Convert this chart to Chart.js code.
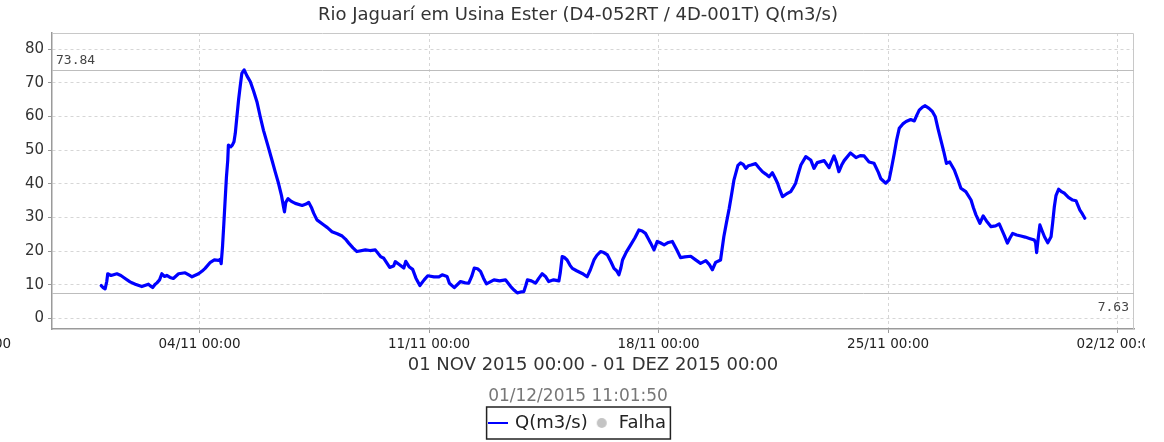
<!DOCTYPE html>
<html>
<head>
<meta charset="utf-8">
<title>Rio Jaguarí em Usina Ester</title>
<script src="https://cdn.jsdelivr.net/npm/chart.js@4/dist/chart.umd.min.js"></script>
<style>
  html, body { margin: 0; padding: 0; background: #fff; }
  canvas { display: block; }
</style>
</head>
<body>
<canvas id="grafico" width="1156" height="442"></canvas>
<script>
// serie de vazao: dias contados a partir de 01/11/2015 00:00
var dias = [
  0.00, 0.06, 0.12, 0.17, 0.20, 0.30, 0.48, 0.60, 0.73, 0.88, 1.04, 1.24, 1.44, 1.50, 1.57, 1.64,
  1.70, 1.78, 1.85, 1.93, 2.00, 2.10, 2.20, 2.36, 2.56, 2.70, 2.77, 2.97, 3.08, 3.17, 3.33, 3.45,
  3.58, 3.63, 3.66, 3.70, 3.74, 3.78, 3.82, 3.86, 3.88, 3.95, 4.00, 4.05, 4.09, 4.14, 4.19, 4.24,
  4.29, 4.36, 4.45, 4.55, 4.65, 4.75, 4.85, 4.95, 5.08, 5.21, 5.31, 5.41, 5.50, 5.56, 5.59, 5.63,
  5.70, 5.80, 5.92, 6.13, 6.25, 6.33, 6.42, 6.48, 6.58, 6.79, 6.90, 7.04, 7.20, 7.35, 7.45, 7.55,
  7.68, 7.80, 8.06, 8.20, 8.36, 8.52, 8.62, 8.80, 8.92, 8.97, 9.10, 9.23, 9.29, 9.40, 9.50, 9.60,
  9.72, 9.85, 9.96, 10.15, 10.30, 10.40, 10.55, 10.62, 10.77, 10.96, 11.10, 11.21, 11.30, 11.38, 11.48, 11.57,
  11.66, 11.75, 11.98, 12.15, 12.33, 12.49, 12.60, 12.69, 12.80, 12.89, 12.95, 13.00, 13.12, 13.25, 13.35, 13.45,
  13.55, 13.65, 13.80, 13.96, 14.00, 14.06, 14.12, 14.21, 14.30, 14.37, 14.50, 14.67, 14.82, 14.92, 15.03, 15.12,
  15.23, 15.33, 15.44, 15.55, 15.64, 15.72, 15.79, 15.85, 15.90, 16.02, 16.15, 16.28, 16.40, 16.50, 16.60, 16.70,
  16.76, 16.86, 16.96, 17.05, 17.17, 17.30, 17.42, 17.55, 17.67, 17.80, 17.98, 18.12, 18.28, 18.44, 18.55, 18.64,
  18.74, 18.89, 18.99, 19.07, 19.15, 19.22, 19.30, 19.42, 19.50, 19.58, 19.66, 19.74, 19.82, 19.96, 20.06, 20.17,
  20.27, 20.37, 20.47, 20.55, 20.63, 20.70, 20.78, 20.90, 21.03, 21.10, 21.18, 21.26, 21.34, 21.49, 21.64, 21.74,
  21.84, 22.05, 22.20, 22.35, 22.42, 22.50, 22.58, 22.66, 22.85, 23.02, 23.15, 23.27, 23.42, 23.57, 23.70, 23.78,
  23.93, 24.03, 24.10, 24.19, 24.26, 24.34, 24.45, 24.55, 24.69, 24.80, 24.88, 24.95, 25.05, 25.13, 25.25, 25.35,
  25.44, 25.52, 25.61, 25.70, 25.78, 25.88, 26.02, 26.12, 26.22, 26.37, 26.53, 26.60, 26.68, 26.80, 26.90, 27.00,
  27.14, 27.28, 27.39, 27.54, 27.64, 27.72, 27.80, 27.92, 28.05, 28.18, 28.31, 28.46, 28.50, 28.53, 28.58, 28.63,
  28.70, 28.77, 28.87, 28.97, 29.02, 29.07, 29.12, 29.20, 29.30, 29.38, 29.50, 29.63, 29.73, 29.85, 29.93, 30.00
];
var vazao = [
  9.8, 9.2, 8.8, 11.0, 13.3, 12.8, 13.3, 12.8, 11.9, 10.9, 10.2, 9.5, 10.2, 9.7, 9.2, 10.1,
  10.6, 11.5, 13.3, 12.5, 12.8, 12.2, 11.9, 13.3, 13.6, 12.8, 12.4, 13.3, 14.1, 14.9, 16.7, 17.4,
  17.3, 17.6, 16.3, 21.3, 28.0, 35.1, 42.0, 47.0, 51.5, 51.0, 51.5, 52.5, 55.0, 60.0, 64.9, 69.0,
  72.8, 73.84, 72.0, 70.3, 67.5, 64.4, 60.0, 55.9, 51.5, 47.0, 43.5, 40.1, 36.5, 33.2, 31.7, 34.5,
  35.6, 34.8, 34.2, 33.6, 34.0, 34.5, 32.8, 31.3, 29.3, 27.8, 27.0, 25.8, 25.2, 24.5, 23.6, 22.4,
  21.0, 19.9, 20.4, 20.2, 20.4, 18.4, 17.9, 15.2, 15.6, 16.9, 16.0, 15.0, 17.0, 15.3, 14.6, 12.0,
  9.8, 11.5, 12.7, 12.4, 12.4, 13.0, 12.5, 10.5, 9.2, 11.0, 10.6, 10.5, 12.5, 15.0, 14.8, 14.0,
  12.0, 10.3, 11.5, 11.2, 11.5, 9.5, 8.4, 7.63, 7.9, 8.0, 9.8, 11.5, 11.2, 10.5, 12.0, 13.3,
  12.5, 11.0, 11.5, 11.2, 13.5, 18.4, 18.2, 17.4, 15.8, 14.9, 14.2, 13.4, 12.4, 14.5, 17.4, 18.8,
  19.9, 19.6, 18.9, 16.8, 14.9, 14.2, 13.0, 15.0, 17.4, 19.8, 21.9, 24.0, 26.3, 26.0, 25.3, 23.5,
  22.4, 20.4, 22.9, 22.5, 21.9, 22.6, 22.9, 20.5, 18.1, 18.3, 18.5, 17.5, 16.4, 17.2, 16.0, 14.5,
  16.7, 17.4, 24.3, 28.5, 32.5, 36.5, 41.2, 45.5, 46.2, 45.8, 44.6, 45.4, 45.6, 46.0, 44.8, 43.6,
  42.9, 42.1, 43.3, 41.8, 40.2, 38.2, 36.2, 37.0, 37.7, 38.8, 40.2, 43.0, 45.6, 48.1, 47.1, 44.6,
  46.3, 46.9, 44.8, 48.3, 46.5, 43.6, 45.5, 46.9, 49.2, 47.8, 48.4, 48.3, 46.5, 46.1, 43.5, 41.5,
  40.2, 41.2, 44.5, 49.1, 53.0, 56.5, 57.8, 58.5, 59.1, 58.7, 60.5, 61.9, 62.8, 63.2, 62.4, 61.5,
  59.9, 56.5, 53.0, 49.5, 46.1, 46.5, 44.1, 41.5, 38.7, 37.7, 35.2, 33.0, 30.8, 28.3, 30.5, 29.0,
  27.3, 27.5, 28.1, 24.8, 22.4, 24.0, 25.3, 24.8, 24.5, 24.2, 23.8, 23.3, 22.5, 19.6, 24.0, 27.8,
  26.0, 24.3, 22.5, 24.3, 28.5, 33.2, 36.5, 38.4, 37.6, 37.2, 36.0, 35.2, 35.0, 32.2, 31.0, 29.8
];

// marcas do eixo do tempo (mesma contagem de dias) e do eixo de vazao
var ticksX = [-4, 3, 10, 17, 24, 31];
var rotulosX = ['28/10 00:00', '04/11 00:00', '11/11 00:00', '18/11 00:00', '25/11 00:00', '02/12 00:00'];
var ticksY = [0, 10, 20, 30, 40, 50, 60, 70, 80];

var titulo = 'Rio Jaguarí em Usina Ester (D4-052RT / 4D-001T) Q(m3/s)';
var periodo = '01 NOV 2015 00:00 - 01 DEZ 2015 00:00';
var geradoEm = '01/12/2015 11:01:50';

var pontos = dias.map(function(d, i) { return {x: d, y: vazao[i]}; });
var vMax = Math.max.apply(null, vazao);
var vMin = Math.min.apply(null, vazao);

// simbolos da legenda: traco azul da serie e bolinha cinza de falha
function marcadorLinha() {
  var c = document.createElement('canvas');
  c.width = 20; c.height = 4;
  var g = c.getContext('2d');
  g.strokeStyle = '#0000ff';
  g.lineWidth = 2;
  g.beginPath(); g.moveTo(0, 2); g.lineTo(20, 2); g.stroke();
  return c;
}
function marcadorPonto() {
  var c = document.createElement('canvas');
  c.width = 12; c.height = 12;
  var g = c.getContext('2d');
  g.fillStyle = '#c4c4c4';
  g.beginPath(); g.arc(6, 6, 5, 0, Math.PI * 2); g.fill();
  return c;
}

// moldura, linhas de maximo/minimo e caixa da legenda
var extras = {
  id: 'extras',
  beforeDatasetsDraw: function(chart) {
    var ctx = chart.ctx, a = chart.chartArea, y = chart.scales.y;
    ctx.save();
    ctx.strokeStyle = '#c8c8c8';
    ctx.lineWidth = 1;
    ctx.beginPath();
    ctx.moveTo(a.left, a.top + 0.5);
    ctx.lineTo(a.right - 0.5, a.top + 0.5);
    ctx.lineTo(a.right - 0.5, a.bottom);
    ctx.stroke();

    var yMax = Math.round(y.getPixelForValue(vMax)) + 0.5;
    var yMin = Math.round(y.getPixelForValue(vMin)) + 0.5;
    ctx.strokeStyle = '#bdbdbd';
    ctx.beginPath();
    ctx.moveTo(a.left, yMax); ctx.lineTo(a.right, yMax);
    ctx.moveTo(a.left, yMin); ctx.lineTo(a.right, yMin);
    ctx.stroke();

    ctx.font = '13px "DejaVu Sans Mono"';
    ctx.fillStyle = '#444';
    ctx.textBaseline = 'alphabetic';
    ctx.textAlign = 'left';
    ctx.fillText(vMax.toFixed(2), a.left + 4, yMax - 7);
    ctx.textAlign = 'right';
    ctx.fillText(vMin.toFixed(2), a.right - 5, yMin + 17);
    ctx.restore();
  },
  afterDraw: function(chart) {
    var ctx = chart.ctx, a = chart.chartArea;
    var hb = chart.legend.legendHitBoxes;
    var ultimo = hb[hb.length - 1];
    var meio = hb[0].top + hb[0].height / 2;
    ctx.save();
    // rotulo de 02/12 fica cortado na borda
    ctx.fillStyle = '#fff';
    ctx.fillRect(1145, a.bottom + 5, 20, 22);
    ctx.strokeStyle = '#222';
    ctx.lineWidth = 1.5;
    var l = hb[0].left - 3.5, r = ultimo.left + ultimo.width + 4.5;
    ctx.strokeRect(l, meio - 16, r - l, 32);
    ctx.restore();
  }
};

Chart.defaults.font.family = '"DejaVu Sans", sans-serif';

var grafico = new Chart(document.getElementById('grafico'), {
  type: 'line',
  data: {
    datasets: [{
      label: 'Q(m3/s)',
      data: pontos,
      borderColor: '#0000ff',
      backgroundColor: '#0000ff',
      borderWidth: 3.2,
      borderJoinStyle: 'round',
      borderCapStyle: 'round',
      pointRadius: 0,
      pointStyle: marcadorLinha(),
      tension: 0,
      fill: false
    }, {
      label: 'Falha',
      data: [],
      borderColor: '#c4c4c4',
      backgroundColor: '#c4c4c4',
      pointStyle: marcadorPonto()
    }]
  },
  options: {
    responsive: false,
    animation: false,
    devicePixelRatio: 1,
    // margens iguais dos dois lados para o titulo e a legenda ficarem centrados
    layout: { padding: { left: 11, right: 11, top: 0, bottom: 0 } },
    scales: {
      x: {
        type: 'linear',
        min: -1.5,
        max: 31.5,
        bounds: 'data',
        afterBuildTicks: function(s) {
          s.ticks = ticksX.map(function(v) { return {value: v}; });
        },
        afterFit: function(s) {
          s.paddingLeft = 0;
          s.paddingRight = 22;
          s.height = 47;
        },
        ticks: {
          autoSkip: false,
          maxRotation: 0,
          padding: 3,
          color: '#222',
          font: { size: 13.5 },
          callback: function(v, i) { return rotulosX[i]; }
        },
        grid: { color: '#d6d6d6', lineWidth: 1, tickLength: 4, tickColor: '#999', tickWidth: 1, tickBorderDash: [] },
        border: { color: '#9a9a9a', width: 1.5, dash: [3, 3] },
        title: { display: true, text: periodo, color: '#333', font: { size: 18 }, padding: { top: 0, bottom: 0 } }
      },
      y: {
        min: -3.1,
        max: 84.8,
        bounds: 'data',
        afterBuildTicks: function(s) {
          s.ticks = ticksY.map(function(v) { return {value: v}; });
        },
        afterFit: function(s) {
          s.width = 41;
          s.paddingTop = 0;
          s.paddingBottom = 0;
        },
        ticks: { padding: 4, color: '#333', font: { size: 15 } },
        grid: { color: '#d6d6d6', lineWidth: 1, tickLength: 4, tickColor: '#999', tickWidth: 1, tickBorderDash: [] },
        border: { color: '#9a9a9a', width: 1.5, dash: [3, 3] }
      }
    },
    plugins: {
      title: {
        display: true,
        text: titulo,
        color: '#333',
        font: { size: 18, weight: 'normal' },
        padding: { top: 5, bottom: 6.4 }
      },
      subtitle: {
        display: true,
        position: 'bottom',
        weight: 500,
        text: geradoEm,
        color: '#777',
        font: { size: 17, weight: 'normal' },
        padding: { top: 10.8, bottom: 0.8 }
      },
      legend: {
        position: 'bottom',
        labels: {
          usePointStyle: true,
          boxWidth: 16,
          padding: 6,
          color: '#222',
          font: { size: 18 }
        }
      },
      tooltip: { enabled: false }
    }
  },
  plugins: [extras]
});
</script>
</body>
</html>
